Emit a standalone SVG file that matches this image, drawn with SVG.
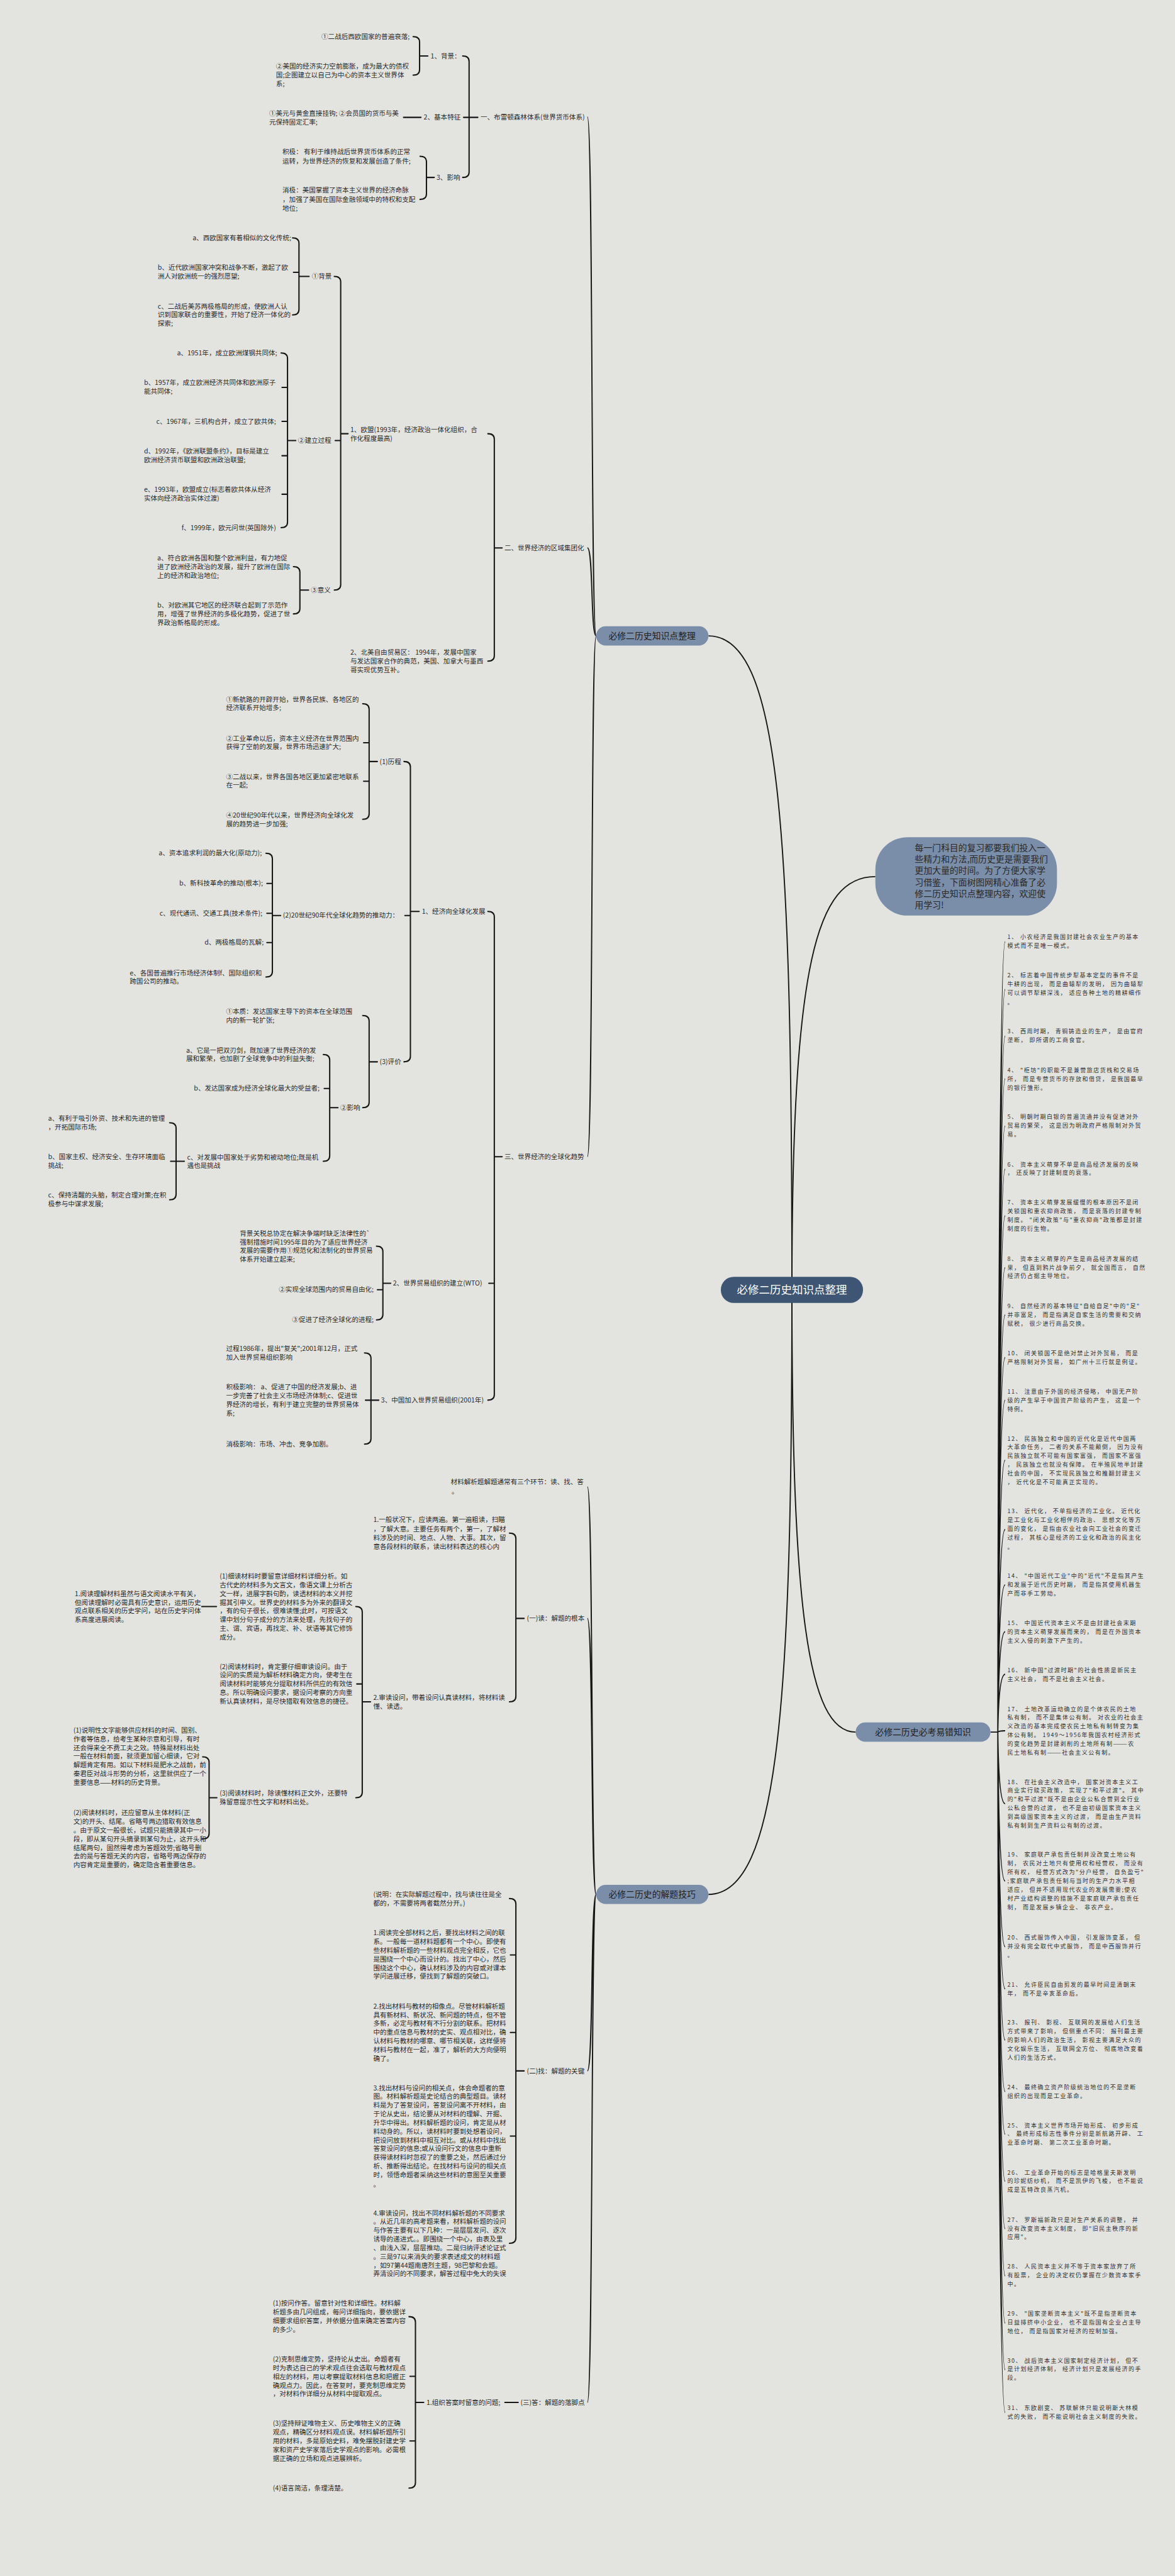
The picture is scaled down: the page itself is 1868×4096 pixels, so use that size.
<svg xmlns="http://www.w3.org/2000/svg" width="1868" height="4096" viewBox="0 0 1868 4096">
<style>
text{font-family:"Noto Sans CJK SC","Noto Sans",sans-serif;}
.t{font-size:14.5px;fill:#2b2b2b}
.r{font-size:12.5px;letter-spacing:1.9px;fill:#333}
.b{fill:none;stroke:#161616;stroke-width:2.8;stroke-linecap:round;stroke-linejoin:round}
.m{fill:none;stroke:#161616;stroke-width:2.6}
.n1{fill:#7a8da9}
.nt{font-size:19px;fill:#222;text-anchor:middle}
</style>
<rect width="1868" height="4096" fill="#e3e4e0"/>
<g transform="scale(0.729)">
<g id="connectors">
<path class="m" d="M1727 2813 C1727 1800 1700 1387 1545 1387"/>
<path class="m" d="M1727 2813 C1727 2100 1780 1912 1909 1912"/>
<path class="m" d="M1727 2813 C1727 3500 1760 3778 1866 3778"/>
<path class="m" d="M1727 2813 C1727 3700 1700 4132 1545 4132"/>
<path class="m" d="M1300 1387 C1288 1387 1294 255 1281 255 M1300 1387 C1288 1387 1294 1195 1281 1195 M1300 1387 C1288 1387 1294 2523 1281 2523"/>
<path class="m" d="M1300 4132 C1288 4132 1294 3243 1281 3243 M1300 4132 C1288 4132 1294 3530 1281 3530 M1300 4132 C1288 4132 1294 4517 1281 4517 M1300 4132 C1288 4132 1294 5240 1281 5240"/>
<path class="b" d="M1009 122 Q1023 122 1023 134 L1023 375 Q1023 387 1009 387 M1011 256 L1042 256"/>
<path class="b" d="M901 80 Q915 80 915 92 L915 152 Q915 164 901 164 M915 122 L933 122"/>
<path class="b" d="M880 256 L918 256"/>
<path class="b" d="M916 341 Q930 341 930 353 L930 423 Q930 435 916 435 M930 387 L947 387"/>
<path class="b" d="M1064 946 Q1078 946 1078 958 L1078 1430 Q1078 1442 1064 1442 M1078 1195 L1095 1195"/>
<path class="b" d="M729 603 Q743 603 743 615 L743 1275 Q743 1287 729 1287 M731 961 L743 961 M743 946 L759 946"/>
<path class="b" d="M638 519 Q652 519 652 531 L652 675 Q652 687 638 687 M640 594 L652 594 M652 603 L674 603"/>
<path class="b" d="M613 770 Q627 770 627 782 L627 1139 Q627 1151 613 1151 M615 845 L627 845 M615 919 L627 919 M615 994 L627 994 M615 1078 L627 1078 M627 961 L645 961"/>
<path class="b" d="M640 1236 Q654 1236 654 1248 L654 1327 Q654 1339 640 1339 M654 1287 L673 1287"/>
<path class="b" d="M1064 1988 Q1078 1988 1078 2000 L1078 3042 Q1078 3054 1064 3054 M1066 2799 L1078 2799 M1078 2523 L1095 2523"/>
<path class="b" d="M881 1661 Q895 1661 895 1673 L895 2304 Q895 2316 881 2316 M883 1997 L895 1997 M895 1988 L914 1988"/>
<path class="b" d="M791 1535 Q805 1535 805 1547 L805 1775 Q805 1787 791 1787 M793 1620 L805 1620 M793 1704 L805 1704 M805 1661 L823 1661"/>
<path class="b" d="M580 1861 Q594 1861 594 1873 L594 2119 Q594 2131 580 2131 M582 1927 L594 1927 M582 1992 L594 1992 M582 2056 L594 2056 M594 1997 L612 1997"/>
<path class="b" d="M791 2215 Q805 2215 805 2227 L805 2404 Q805 2416 791 2416 M805 2316 L823 2316"/>
<path class="b" d="M705 2300 Q719 2300 719 2312 L719 2521 Q719 2533 705 2533 M707 2374 L719 2374 M719 2416 L737 2416"/>
<path class="b" d="M370 2449 Q384 2449 384 2461 L384 2605 Q384 2617 370 2617 M372 2533 L402 2533"/>
<path class="b" d="M821 2718 Q835 2718 835 2730 L835 2867 Q835 2879 821 2879 M823 2813 L835 2813 M835 2799 L852 2799"/>
<path class="b" d="M795 2951 Q809 2951 809 2963 L809 3138 Q809 3150 795 3150 M797 3054 L826 3054"/>
<path class="b" d="M1111 3344 Q1125 3344 1125 3356 L1125 3700 Q1125 3712 1111 3712 M1125 3530 L1143 3530"/>
<path class="b" d="M776 3504 Q790 3504 790 3516 L790 3909 Q790 3921 776 3921 M778 3673 L790 3673 M790 3712 L808 3712"/>
<path class="b" d="M440 3504 L472 3504"/>
<path class="b" d="M442 3832 Q456 3832 456 3844 L456 3999 Q456 4011 442 4011 M456 3921 L473 3921"/>
<path class="b" d="M1111 4141 Q1125 4141 1125 4153 L1125 4881 Q1125 4893 1111 4893 M1113 4264 L1125 4264 M1113 4433 L1125 4433 M1113 4659 L1125 4659 M1125 4517 L1143 4517"/>
<path class="b" d="M1101 5240 L1130 5240"/>
<path class="b" d="M892 5053 Q906 5053 906 5065 L906 5415 Q906 5427 892 5427 M894 5183 L906 5183 M894 5324 L906 5324 M906 5240 L924 5240"/>
<path class="m" d="M2160 3778 L2176 3778 M2176 3778 Q2178 2054 2192 2054 M2176 3778 Q2178 2158 2192 2158 M2176 3778 Q2178 2260 2192 2260 M2176 3778 Q2178 2353 2192 2353 M2176 3778 Q2178 2456 2192 2456 M2176 3778 Q2178 2550 2192 2550 M2176 3778 Q2178 2652 2192 2652 M2176 3778 Q2178 2765 2192 2765 M2176 3778 Q2178 2868 2192 2868 M2176 3778 Q2178 2961 2192 2961 M2176 3778 Q2178 3054 2192 3054 M2176 3778 Q2178 3185 2192 3185 M2176 3778 Q2178 3336 2192 3336 M2176 3778 Q2178 3457 2192 3457 M2176 3778 Q2178 3559 2192 3559 M2176 3778 Q2178 3652 2192 3652 M2176 3778 Q2178 3775 2192 3775 M2176 3778 Q2178 3934 2192 3934 M2176 3778 Q2178 4103 2192 4103 M2176 3778 Q2178 4246 2192 4246 M2176 3778 Q2178 4338 2192 4338 M2176 3778 Q2178 4450 2192 4450 M2176 3778 Q2178 4562 2192 4562 M2176 3778 Q2178 4655 2192 4655 M2176 3778 Q2178 4758 2192 4758 M2176 3778 Q2178 4861 2192 4861 M2176 3778 Q2178 4964 2192 4964 M2176 3778 Q2178 5067 2192 5067 M2176 3778 Q2178 5169 2192 5169 M2176 3778 Q2178 5262 2192 5262"/>
</g>

<g id="root"><rect x="1572" y="2785" width="310" height="57" rx="28" fill="#3e5574"/><text x="1727" y="2822" text-anchor="middle" font-size="24" fill="#fff">必修二历史知识点整理</text></g>
<g id="intro"><rect x="1909" y="1826" width="396" height="171" rx="70" class="n1"/><text x="1995" y="1856" font-size="19" fill="#2a2a2a">每一门科目的复习都要我们投入一<tspan x="1995" dy="25">些精力和方法,而历史更是需要我们</tspan><tspan x="1995" dy="25">更加大量的时间。为了方便大家学</tspan><tspan x="1995" dy="25">习借鉴，下面树图网精心准备了必</tspan><tspan x="1995" dy="25">修二历史知识点整理内容，欢迎使</tspan><tspan x="1995" dy="25">用学习!</tspan></text></g>
<g id="nodeA"><rect x="1300" y="1366" width="245" height="42" rx="21" class="n1"/><text class="nt" x="1422" y="1394">必修二历史知识点整理</text></g>
<g id="nodeB"><rect x="1300" y="4111" width="245" height="42" rx="21" class="n1"/><text class="nt" x="1422" y="4139">必修二历史的解题技巧</text></g>
<g id="nodeC"><rect x="1866" y="3757" width="294" height="42" rx="21" class="n1"/><text class="nt" x="2013" y="3785">必修二历史必考易错知识</text></g>

<g id="a1"><text class="t" x="1048" y="260">一、布雷顿森林体系(世界货币体系)</text></g>
<g id="a1-1"><text class="t" x="939" y="127">1、背景：</text></g>
<g id="a1-1-1"><text class="t" x="701" y="85">①二战后西欧国家的普遍衰落;</text></g>
<g id="a1-1-2"><text class="t" x="602" y="150">②美国的经济实力空前膨胀，成为最大的债权<tspan x="602" dy="19">国;企图建立以自己为中心的资本主义世界体</tspan><tspan x="602" dy="19">系;</tspan></text></g>
<g id="a1-2"><text class="t" x="924" y="261">2、基本特征</text></g>
<g id="a1-2-1"><text class="t" x="587" y="253">①美元与黄金直接挂钩; ②会员国的货币与美<tspan x="587" dy="19">元保持固定汇率;</tspan></text></g>
<g id="a1-3"><text class="t" x="952" y="392">3、影响</text></g>
<g id="a1-3-1"><text class="t" x="616" y="336">积极： 有利于维持战后世界货币体系的正常<tspan x="616" dy="20">运转，为世界经济的恢复和发展创造了条件;</tspan></text></g>
<g id="a1-3-2"><text class="t" x="616" y="420">消极：美国掌握了资本主义世界的经济命脉<tspan x="616" dy="20">，加强了美国在国际金融领域中的特权和支配</tspan><tspan x="616" dy="19">地位;</tspan></text></g>

<g id="a2"><text class="t" x="1100" y="1200">二、世界经济的区域集团化</text></g>
<g id="a2-1"><text class="t" x="764" y="942">1、欧盟(1993年，经济政治一体化组织，合<tspan x="764" dy="19">作化程度最高)</tspan></text></g>
<g id="a2-1-1"><text class="t" x="680" y="608">①背景</text></g>
<g id="a2-1-1a"><text class="t" x="420" y="524">a、西欧国家有着相似的文化传统;</text></g>
<g id="a2-1-1b"><text class="t" x="344" y="589">b、近代欧洲国家冲突和战争不断，激起了欧<tspan x="344" dy="19">洲人对欧洲统一的强烈愿望;</tspan></text></g>
<g id="a2-1-1c"><text class="t" x="344" y="673">c、二战后美苏两极格局的形成，使欧洲人认<tspan x="344" dy="19">识到国家联合的重要性，开始了经济一体化的</tspan><tspan x="344" dy="19">探索;</tspan></text></g>
<g id="a2-1-2"><text class="t" x="650" y="966">②建立过程</text></g>
<g id="a2-1-2a"><text class="t" x="386" y="775">a、1951年，成立欧洲煤钢共同体;</text></g>
<g id="a2-1-2b"><text class="t" x="314" y="840">b、1957年，成立欧洲经济共同体和欧洲原子<tspan x="314" dy="19">能共同体;</tspan></text></g>
<g id="a2-1-2c"><text class="t" x="341" y="924">c、1967年，三机构合并，成立了欧共体;</text></g>
<g id="a2-1-2d"><text class="t" x="314" y="989">d、1992年，《欧洲联盟条约》，目标是建立<tspan x="314" dy="19">欧洲经济货币联盟和欧洲政治联盟;</tspan></text></g>
<g id="a2-1-2e"><text class="t" x="314" y="1073">e、1993年，欧盟成立(标志着欧共体从经济<tspan x="314" dy="19">实体向经济政治实体过渡)</tspan></text></g>
<g id="a2-1-2f"><text class="t" x="396" y="1156">f、1999年，欧元问世(英国除外)</text></g>
<g id="a2-1-3"><text class="t" x="678" y="1292">③意义</text></g>
<g id="a2-1-3a"><text class="t" x="343" y="1222">a、符合欧洲各国和整个欧洲利益，有力地促<tspan x="343" dy="19">进了欧洲经济政治的发展，提升了欧洲在国际</tspan><tspan x="343" dy="19">上的经济和政治地位;</tspan></text></g>
<g id="a2-1-3b"><text class="t" x="343" y="1325">b、对欧洲其它地区的经济联合起到了示范作<tspan x="343" dy="19">用，增强了世界经济的多极化趋势，促进了世</tspan><tspan x="343" dy="19">界政治新格局的形成。</tspan></text></g>
<g id="a2-2"><text class="t" x="764" y="1428">2、北美自由贸易区： 1994年，发展中国家<tspan x="764" dy="19">与发达国家合作的典范，美国、加拿大与墨西</tspan><tspan x="764" dy="19">哥实现优势互补。</tspan></text></g>

<g id="a3"><text class="t" x="1100" y="2528">三、世界经济的全球化趋势</text></g>
<g id="a3-1"><text class="t" x="920" y="1993">1、经济向全球化发展</text></g>
<g id="a3-1-1"><text class="t" x="828" y="1666">(1)历程</text></g>
<g id="a3-1-1a"><text class="t" x="493" y="1531">①新航路的开辟开始，世界各民族、各地区的<tspan x="493" dy="18">经济联系开始增多;</tspan></text></g>
<g id="a3-1-1b"><text class="t" x="493" y="1616">②工业革命以后，资本主义经济在世界范围内<tspan x="493" dy="18">获得了空前的发展，世界市场迅速扩大;</tspan></text></g>
<g id="a3-1-1c"><text class="t" x="493" y="1700">③二战以来，世界各国各地区更加紧密地联系<tspan x="493" dy="18">在一起;</tspan></text></g>
<g id="a3-1-1d"><text class="t" x="493" y="1783">④20世纪90年代以来，世界经济向全球化发<tspan x="493" dy="19">展的趋势进一步加强;</tspan></text></g>
<g id="a3-1-2"><text class="t" x="617" y="2002">(2)20世纪90年代全球化趋势的推动力：</text></g>
<g id="a3-1-2a"><text class="t" x="346" y="1866">a、资本追求利润的最大化(原动力);</text></g>
<g id="a3-1-2b"><text class="t" x="391" y="1932">b、新科技革命的推动(根本);</text></g>
<g id="a3-1-2c"><text class="t" x="348" y="1997">c、现代通讯、交通工具(技术条件);</text></g>
<g id="a3-1-2d"><text class="t" x="446" y="2061">d、两极格局的瓦解;</text></g>
<g id="a3-1-2e"><text class="t" x="283" y="2127">e、各国普遍推行市场经济体制f、国际组织和<tspan x="283" dy="18">跨国公司的推动。</tspan></text></g>
<g id="a3-1-3"><text class="t" x="828" y="2321">(3)评价</text></g>
<g id="a3-1-3a"><text class="t" x="493" y="2211">①本质：发达国家主导下的资本在全球范围<tspan x="493" dy="19">内的新一轮扩张;</tspan></text></g>
<g id="a3-1-3b"><text class="t" x="742" y="2421">②影响</text></g>
<g id="a3-1-3b1"><text class="t" x="406" y="2296">a、它是一把双刃剑，既加速了世界经济的发<tspan x="406" dy="18">展和繁荣，也加剧了全球竞争中的利益失衡;</tspan></text></g>
<g id="a3-1-3b2"><text class="t" x="423" y="2379">b、发达国家成为经济全球化最大的受益者;</text></g>
<g id="a3-1-3b3"><text class="t" x="408" y="2529">c、对发展中国家处于劣势和被动地位;既是机<tspan x="408" dy="19">遇也是挑战</tspan></text></g>
<g id="a3-1-3b3a"><text class="t" x="105" y="2444">a、有利于吸引外资、技术和先进的管理<tspan x="105" dy="20">，开拓国际市场;</tspan></text></g>
<g id="a3-1-3b3b"><text class="t" x="105" y="2528">b、国家主权、经济安全、生存环境面临<tspan x="105" dy="19">挑战;</tspan></text></g>
<g id="a3-1-3b3c"><text class="t" x="105" y="2612">c、保持清醒的头脑，制定合理对策;在积<tspan x="105" dy="19">极参与中谋求发展;</tspan></text></g>
<g id="a3-2"><text class="t" x="857" y="2804">2、世界贸易组织的建立(WTO)</text></g>
<g id="a3-2a"><text class="t" x="523" y="2695">背景关税总协定在解决争端时缺乏法律性的`<tspan x="523" dy="19">强制措施时间1995年目的为了适应世界经济</tspan><tspan x="523" dy="19">发展的需要作用①规范化和法制化的世界贸易</tspan><tspan x="523" dy="19">体系开始建立起来;</tspan></text></g>
<g id="a3-2b"><text class="t" x="608" y="2818">②实现全球范围内的贸易自由化;</text></g>
<g id="a3-2c"><text class="t" x="637" y="2884">③促进了经济全球化的进程;</text></g>
<g id="a3-3"><text class="t" x="831" y="3059">3、中国加入世界贸易组织(2001年)</text></g>
<g id="a3-3a"><text class="t" x="493" y="2947">过程1986年，提出"复关";2001年12月，正式<tspan x="493" dy="19">加入世界贸易组织影响</tspan></text></g>
<g id="a3-3b"><text class="t" x="493" y="3030">积极影响： a、促进了中国的经济发展;b、进<tspan x="493" dy="20">一步完善了社会主义市场经济体制;c、促进世</tspan><tspan x="493" dy="19">界经济的增长，有利于建立完整的世界贸易体</tspan><tspan x="493" dy="19">系;</tspan></text></g>
<g id="a3-3c"><text class="t" x="493" y="3155">消极影响：市场、冲击、竞争加剧。</text></g>

<g id="b0"><text class="t" x="983" y="3237">材料解析题解题通常有三个环节：读、找、答<tspan x="985" dy="21">。</tspan></text></g>
<g id="b1"><text class="t" x="1149" y="3535">(一)读：解题的根本</text></g>
<g id="b1-1"><text class="t" x="814" y="3320">1.一般状况下，应读两遍。第一遍粗读，扫瞄<tspan x="814" dy="20">，了解大意。主要任务有两个，第一，了解材</tspan><tspan x="814" dy="19">料涉及的时间、地点、人物、大事。其次，留</tspan><tspan x="814" dy="19">意各段材料的联系，读出材料表达的核心内</tspan></text></g>
<g id="b1-2"><text class="t" x="814" y="3708">2.审读设问，带着设问认真读材料，将材料读<tspan x="814" dy="19">懂、读透。</tspan></text></g>
<g id="b1-2-1"><text class="t" x="479" y="3443">(1)细读材料时要留意详细材料详细分析。如<tspan x="479" dy="19">古代史的材料多为文言文，像语文课上分析古</tspan><tspan x="479" dy="19">文一样，进展字斟句酌，读透材料的本义并挖</tspan><tspan x="479" dy="19">掘其引申义。世界史的材料多为外来的翻译文</tspan><tspan x="479" dy="19">，有的句子很长，很难读懂;此时，可按语文</tspan><tspan x="479" dy="19">课中划分句子成分的方法来处理，先找句子的</tspan><tspan x="479" dy="19">主、谓、宾语，再找定、补、状语等其它修饰</tspan><tspan x="479" dy="19">成分。</tspan></text></g>
<g id="b1-2-1a"><text class="t" x="163" y="3481">1.阅读理解材料虽然与语文阅读水平有关，<tspan x="163" dy="19">但阅读理解时必需具有历史意识，运用历史</tspan><tspan x="163" dy="19">观点联系相关的历史学问，站在历史学问体</tspan><tspan x="163" dy="19">系高度进展阅读。</tspan></text></g>
<g id="b1-2-2"><text class="t" x="479" y="3640">(2)阅读材料时，肯定要仔细审读设问。由于<tspan x="479" dy="19">设问的实质是为解析材料确定方向，使考生在</tspan><tspan x="479" dy="19">阅读材料时能够充分提取材料所供应的有效信</tspan><tspan x="479" dy="19">息。所以明确设问要求，据设问考察的方向重</tspan><tspan x="479" dy="19">新认真读材料，是尽快猎取有效信息的捷径。</tspan></text></g>
<g id="b1-2-3"><text class="t" x="479" y="3917">(3)阅读材料时，除读懂材料正文外，还要特<tspan x="479" dy="19">殊留意提示性文字和材料出处。</tspan></text></g>
<g id="b1-2-3a"><text class="t" x="160" y="3779">(1)说明性文字能够供应材料的时间、国别、<tspan x="160" dy="19">作者等信息，给考生某种示意和引导，有时</tspan><tspan x="160" dy="19">还会得来全不费工夫之效。特殊是材料出处</tspan><tspan x="160" dy="19">一般在材料前面，就须更加留心细读，它对</tspan><tspan x="160" dy="19">解题肯定有用。如以下材料是肥水之战前，前</tspan><tspan x="160" dy="19">秦君臣对战斗形势的分析，这里就供应了一个</tspan><tspan x="160" dy="19">重要信息——材料的历史背景。</tspan></text></g>
<g id="b1-2-3b"><text class="t" x="160" y="3959">(2)阅读材料时，还应留意从主体材料(正<tspan x="160" dy="19">文)的开头、结尾。省略号两边猎取有效信息</tspan><tspan x="160" dy="19">。由于原文一般很长，试题只能摘录其中一小</tspan><tspan x="160" dy="19">段，即从某句开头摘录到某句为止，这开头和</tspan><tspan x="160" dy="19">结尾两句，固然得考虑为答题效劳;省略号删</tspan><tspan x="160" dy="19">去的是与答题无关的内容，省略号两边保存的</tspan><tspan x="160" dy="19">内容肯定是重要的，确定隐含着重要信息。</tspan></text></g>

<g id="b2"><text class="t" x="1149" y="4522">(二)找：解题的关键</text></g>
<g id="b2-0"><text class="t" x="814" y="4137">(说明：在实际解题过程中，找与读往往是全<tspan x="814" dy="19">都的，不需要将两者截然分开。)</tspan></text></g>
<g id="b2-1"><text class="t" x="814" y="4221">1.阅读完全部材料之后，要找出材料之间的联<tspan x="814" dy="19">系。一般每一道材料题都有一个中心。即使有</tspan><tspan x="814" dy="19">些材料解析题的一些材料观点完全相反，它也</tspan><tspan x="814" dy="19">是围绕一个中心而设计的。找出了中心，然后</tspan><tspan x="814" dy="19">围绕这个中心，确认材料涉及的内容或对课本</tspan><tspan x="814" dy="19">学问进展迁移，便找到了解题的突破口。</tspan></text></g>
<g id="b2-2"><text class="t" x="814" y="4381">2.找出材料与教材的相像点。尽管材料解析题<tspan x="814" dy="19">具有新材料、新状况、新问题的特点，但不管</tspan><tspan x="814" dy="19">多新，必定与教材有不行分割的联系。把材料</tspan><tspan x="814" dy="19">中的重点信息与教材的史实、观点相对比，确</tspan><tspan x="814" dy="19">认材料与教材的哪章、哪节相关联，这样便将</tspan><tspan x="814" dy="19">材料与教材在一起，准了，解析的大方向便明</tspan><tspan x="814" dy="19">确了。</tspan></text></g>
<g id="b2-3"><text class="t" x="814" y="4559">3.找出材料与设问的相关点，体会命题者的意<tspan x="814" dy="19">图。材料解析题是史论结合的典型题目。读材</tspan><tspan x="814" dy="19">料是为了答复设问，答复设问离不开材料，由</tspan><tspan x="814" dy="19">于论从史出，结论要从对材料的理解、开掘、</tspan><tspan x="814" dy="19">升华中得出。材料解析题的设问，肯定是从材</tspan><tspan x="814" dy="19">料动身的。所以，读材料时要到处想着设问，</tspan><tspan x="814" dy="19">把设问放到材料中相互对比。或从材料中找出</tspan><tspan x="814" dy="19">答复设问的信息;或从设问行文的信息中重新</tspan><tspan x="814" dy="19">获得读材料时忽视了的重要之处，然后通过分</tspan><tspan x="814" dy="19">析、推断得出结论。在找材料与设问的相关点</tspan><tspan x="814" dy="19">时，领悟命题者采纳这些材料的意图至关重要</tspan><tspan x="814" dy="21">。</tspan></text></g>
<g id="b2-4"><text class="t" x="814" y="4832">4.审读设问，找出不同材料解析题的不同要求<tspan x="814" dy="19">。从近几年的高考题来看，材料解析题的设问</tspan><tspan x="814" dy="19">与作答主要有以下几种：一是层层发问、逐次</tspan><tspan x="814" dy="19">诱导的递进式。。即围绕一个中心，由表及里</tspan><tspan x="814" dy="19">、由浅入深，层层推动。二是归纳评述论证式</tspan><tspan x="814" dy="19">。三是97以来消失的要求表述成文的材料题</tspan><tspan x="814" dy="19">，如97第44题南唐烈主题，98巴黎和会题。</tspan><tspan x="814" dy="19">弄清设问的不同要求，解答过程中免大的失误</tspan></text></g>

<g id="b3"><text class="t" x="1135" y="5245">(三)答：解题的落脚点</text></g>
<g id="b3-1"><text class="t" x="930" y="5245">1.组织答案时留意的问题;</text></g>
<g id="b3-1-1"><text class="t" x="595" y="5029">(1)按问作答。留意针对性和详细性。材料解<tspan x="595" dy="19">析题多由几问组成，每问详细指向，要依据详</tspan><tspan x="595" dy="19">细要求组织答案，并依据分值来确定答案内容</tspan><tspan x="595" dy="19">的多少。</tspan></text></g>
<g id="b3-1-2"><text class="t" x="595" y="5151">(2)克制思维定势，坚持论从史出。命题者有<tspan x="595" dy="19">时为表达自己的学术观点往会选取与教材观点</tspan><tspan x="595" dy="19">相左的材料，用以考察提取材料信息和把握正</tspan><tspan x="595" dy="19">确观点力。因此，在答复时，要克制思维定势</tspan><tspan x="595" dy="19">，对材料作详细分从材料中提取观点。</tspan></text></g>
<g id="b3-1-3"><text class="t" x="595" y="5291">(3)坚持辩证唯物主义、历史唯物主义的正确<tspan x="595" dy="19">观点，精确区分材料观点误。材料解析题所引</tspan><tspan x="595" dy="19">用的材料，多是原始史料，难免摆脱封建史学</tspan><tspan x="595" dy="19">家和资产史学家落后史学观点的影响。必需根</tspan><tspan x="595" dy="19">据正确的立场和观点进展辨析。</tspan></text></g>
<g id="b3-1-4"><text class="t" x="595" y="5432">(4)语言简洁，条理清楚。</text></g>

<g id="e1"><text class="r" x="2197" y="2048">1、 小农经济是我国封建社会农业生产的基本<tspan x="2197" dy="19">模式而不是唯一模式。</tspan></text></g>
<g id="e2"><text class="r" x="2197" y="2132">2、 标志着中国传统步犁基本定型的事件不是<tspan x="2197" dy="19">牛耕的出现， 而是曲辕犁的发明， 因为曲辕犁</tspan><tspan x="2197" dy="19">可以调节犁耕深浅， 适应各种土地的精耕细作</tspan><tspan x="2197" dy="20">。</tspan></text></g>
<g id="e3"><text class="r" x="2197" y="2254">3、 西周时期， 青铜铸造业的生产， 是由官府<tspan x="2197" dy="19">垄断， 即所谓的工商食官。</tspan></text></g>
<g id="e4"><text class="r" x="2197" y="2339">4、 "柜坊"的职能不是兼营旅店货栈和交易场<tspan x="2197" dy="19">所， 而是专营货币的存放和借贷， 是我国最早</tspan><tspan x="2197" dy="19">的银行雏形。</tspan></text></g>
<g id="e5"><text class="r" x="2197" y="2441">5、 明朝时期白银的普遍流通并没有促进对外<tspan x="2197" dy="19">贸易的繁荣， 这是因为明政府严格限制对外贸</tspan><tspan x="2197" dy="19">易。</tspan></text></g>
<g id="e6"><text class="r" x="2197" y="2544">6、 资本主义萌芽不单是商品经济发展的反映<tspan x="2197" dy="19">， 还反映了封建制度的衰落。</tspan></text></g>
<g id="e7"><text class="r" x="2197" y="2627">7、 资本主义萌芽发展缓慢的根本原因不是闭<tspan x="2197" dy="19">关锁国和重农抑商政策， 而是衰落的封建专制</tspan><tspan x="2197" dy="19">制度。 "闭关政策"与"重农抑商"政策都是封建</tspan><tspan x="2197" dy="19">制度的衍生物。</tspan></text></g>
<g id="e8"><text class="r" x="2197" y="2750">8、 资本主义萌芽的产生是商品经济发展的结<tspan x="2197" dy="19">果， 但直到鸦片战争前夕， 就全国而言， 自然</tspan><tspan x="2197" dy="19">经济仍占据主导地位。</tspan></text></g>
<g id="e9"><text class="r" x="2197" y="2853">9、 自然经济的基本特征"自给自足"中的"足"<tspan x="2197" dy="19">并非富足， 而是指满足自家生活的需要和交纳</tspan><tspan x="2197" dy="19">赋税， 很少进行商品交换。</tspan></text></g>
<g id="e10"><text class="r" x="2197" y="2956">10、 闭关锁国不是绝对禁止对外贸易， 而是<tspan x="2197" dy="19">严格限制对外贸易， 如广州十三行就是例证。</tspan></text></g>
<g id="e11"><text class="r" x="2197" y="3040">11、 注意由于外国的经济侵略， 中国无产阶<tspan x="2197" dy="19">级的产生早于中国资产阶级的产生， 这是一个</tspan><tspan x="2197" dy="19">特例。</tspan></text></g>
<g id="e12"><text class="r" x="2197" y="3142">12、 民族独立和中国的近代化是近代中国两<tspan x="2197" dy="19">大革命任务， 二者的关系不能颠倒， 因为没有</tspan><tspan x="2197" dy="19">民族独立就不可能有国家富强， 而国家不富强</tspan><tspan x="2197" dy="19">， 民族独立也就没有保障。 在半殖民地半封建</tspan><tspan x="2197" dy="19">社会的中国， 不实现民族独立和推翻封建主义</tspan><tspan x="2197" dy="19">， 近代化是不可能真正实现的。</tspan></text></g>
<g id="e13"><text class="r" x="2197" y="3301">13、 近代化， 不单指经济的工业化。 近代化<tspan x="2197" dy="19">是工业化与工业化相伴的政治、 思想文化等方</tspan><tspan x="2197" dy="19">面的变化， 是指由农业社会向工业社会的变迁</tspan><tspan x="2197" dy="19">过程， 其核心是经济的工业化和政治的民主化</tspan><tspan x="2197" dy="20">。</tspan></text></g>
<g id="e14"><text class="r" x="2197" y="3442">14、 "中国近代工业"中的"近代"不是指其产生<tspan x="2197" dy="19">和发展于近代历史时期， 而是指其使用机器生</tspan><tspan x="2197" dy="19">产而非手工劳动。</tspan></text></g>
<g id="e15"><text class="r" x="2197" y="3545">15、 中国近代资本主义不是由封建社会末期<tspan x="2197" dy="19">的资本主义萌芽发展而来的， 而是在外国资本</tspan><tspan x="2197" dy="19">主义入侵的刺激下产生的。</tspan></text></g>
<g id="e16"><text class="r" x="2197" y="3647">16、 新中国"过渡时期"的社会性质是新民主<tspan x="2197" dy="19">主义社会， 而不是社会主义社会。</tspan></text></g>
<g id="e17"><text class="r" x="2197" y="3732">17、 土地改革运动确立的是个体农民的土地<tspan x="2197" dy="19">私有制， 而不是集体公有制。 对农业的社会主</tspan><tspan x="2197" dy="19">义改造的基本完成使农民土地私有制转变为集</tspan><tspan x="2197" dy="19">体公有制。 1949～1956年我国农村经济形式</tspan><tspan x="2197" dy="19">的变化趋势是封建剥削的土地所有制———农</tspan><tspan x="2197" dy="19">民土地私有制———社会主义公有制。</tspan></text></g>
<g id="e18"><text class="r" x="2197" y="3891">18、 在社会主义改造中， 国家对资本主义工<tspan x="2197" dy="19">商业实行赎买政策， 实现了"和平过渡"。 其中</tspan><tspan x="2197" dy="19">的"和平过渡"既不是由企业公私合营到全行业</tspan><tspan x="2197" dy="19">公私合营的过渡， 也不是由初级国家资本主义</tspan><tspan x="2197" dy="19">到高级国家资本主义的过渡， 而是由生产资料</tspan><tspan x="2197" dy="19">私有制到生产资料公有制的过渡。</tspan></text></g>
<g id="e19"><text class="r" x="2197" y="4050">19、 家庭联产承包责任制并没改变土地公有<tspan x="2197" dy="19">制， 农民对土地只有使用权和经营权， 而没有</tspan><tspan x="2197" dy="19">所有权， 经营方式改为"分户经营， 自负盈亏"</tspan><tspan x="2197" dy="19">;家庭联产承包责任制与当时的生产力水平相</tspan><tspan x="2197" dy="19">适应， 但并不适用现代农业的发展需要;使农</tspan><tspan x="2197" dy="19">村产业结构调整的措施不是家庭联产承包责任</tspan><tspan x="2197" dy="19">制， 而是发展乡镇企业、 非农产业。</tspan></text></g>
<g id="e20"><text class="r" x="2197" y="4230">20、 西式服饰传入中国， 引发服饰变革， 但<tspan x="2197" dy="19">并没有完全取代中式服饰， 而是中西服饰并行</tspan><tspan x="2197" dy="20">。</tspan></text></g>
<g id="e21"><text class="r" x="2197" y="4333">21、 允许臣民自由剪发的最早时间是清朝末<tspan x="2197" dy="19">年， 而不是辛亥革命后。</tspan></text></g>
<g id="e23"><text class="r" x="2197" y="4416">23、 报刊、 影视、 互联网的发展给人们生活<tspan x="2197" dy="19">方式带来了影响， 但侧重点不同： 报刊最主要</tspan><tspan x="2197" dy="19">的影响人们的政治生活， 影视主要满足大众的</tspan><tspan x="2197" dy="19">文化娱乐生活， 互联网全方位、 彻底地改变着</tspan><tspan x="2197" dy="19">人们的生活方式。</tspan></text></g>
<g id="e24"><text class="r" x="2197" y="4557">24、 最终确立资产阶级统治地位的不是垄断<tspan x="2197" dy="19">组织的出现而是工业革命。</tspan></text></g>
<g id="e25"><text class="r" x="2197" y="4640">25、 资本主义世界市场开始形成、 初步形成<tspan x="2197" dy="19">、 最终形成标志性事件分别是新航路开辟、 工</tspan><tspan x="2197" dy="19">业革命时期、 第二次工业革命时期。</tspan></text></g>
<g id="e26"><text class="r" x="2197" y="4743">26、 工业革命开始的标志是哈格里夫斯发明<tspan x="2197" dy="19">的珍妮纺纱机， 而不是凯伊的飞梭， 也不能说</tspan><tspan x="2197" dy="19">成是瓦特改良蒸汽机。</tspan></text></g>
<g id="e27"><text class="r" x="2197" y="4846">27、 罗斯福新政只是对生产关系的调整， 并<tspan x="2197" dy="19">没有改变资本主义制度， 即"旧民主秩序的新</tspan><tspan x="2197" dy="19">应用"。</tspan></text></g>
<g id="e28"><text class="r" x="2197" y="4948">28、 人民资本主义并不等于资本家放弃了所<tspan x="2197" dy="19">有股票， 企业的决定权仍掌握在少数资本家手</tspan><tspan x="2197" dy="19">中。</tspan></text></g>
<g id="e29"><text class="r" x="2197" y="5051">29、 "国家垄断资本主义"既不是指垄断资本<tspan x="2197" dy="19">日益排挤中小企业， 也不是指国有企业占主导</tspan><tspan x="2197" dy="19">地位， 而是指国家对经济的控制加强。</tspan></text></g>
<g id="e30"><text class="r" x="2197" y="5153">30、 战后资本主义国家制定经济计划， 但不<tspan x="2197" dy="19">是计划经济体制， 经济计划只是发展经济的手</tspan><tspan x="2197" dy="19">段。</tspan></text></g>
<g id="e31"><text class="r" x="2197" y="5257">31、 东欧剧变、 苏联解体只能说明斯大林模<tspan x="2197" dy="19">式的失败， 而不能说明社会主义制度的失败。</tspan></text></g>
</g>
</svg>
